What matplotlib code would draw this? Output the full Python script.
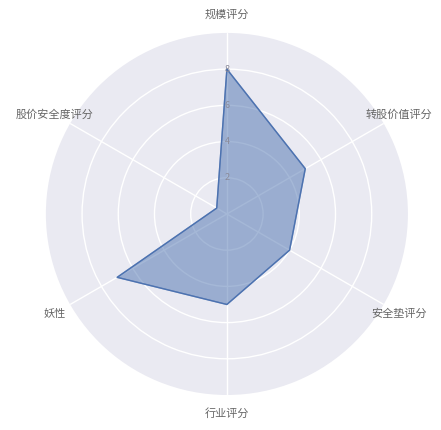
import numpy as np
import matplotlib
matplotlib.use('Agg')
import matplotlib.pyplot as plt
from matplotlib import style

style.use('seaborn-v0_8-darkgrid')
plt.rcParams['font.family'] = ['Noto Sans CJK SC', 'DejaVu Sans']

# 评分数据
labels = ['规模评分', '转股价值评分', '安全垫评分', '行业评分', '妖性', '股价安全度评分']
scores = [8, 5, 4, 5, 7, 0.65]
rticks = [2, 4, 6, 8]


def radar():
    n = len(labels)
    angles = np.linspace(0, 2 * np.pi, n, endpoint=False)
    ang = np.concatenate([angles, angles[:1]])
    vals = np.concatenate([scores, scores[:1]])

    fig = plt.figure(figsize=(4.41, 4.30), dpi=100)
    ax = fig.add_axes([0.104, 0.0814, 0.821, 0.842], polar=True)
    ax.set_theta_offset(np.pi / 2)
    ax.set_theta_direction(-1)
    ax.set_facecolor('#EAEAF2')
    ax.set_ylim(0, 10)

    ax.fill(ang, vals, color='#4C72B0', alpha=0.5, zorder=3)
    ax.plot(ang, vals, color='#4C72B0', linewidth=1, zorder=4)

    ax.set_xticks(angles)
    ax.set_xticklabels([])
    ax.set_yticks(rticks)
    ax.set_yticklabels([])
    ax.grid(color='white', linewidth=1)
    ax.spines['polar'].set_visible(False)

    # 维度标签
    for a, lab in zip(angles, labels):
        ax.text(a, 11, lab, ha='center', va='center', fontsize=8, color='#666666')

    # 刻度标签
    for r in rticks:
        ax.text(0, r, str(r), ha='center', va='center', fontsize=6.5,
                color='#8a8a99', zorder=5)

    fig.savefig('out.png', dpi=100)


radar()
